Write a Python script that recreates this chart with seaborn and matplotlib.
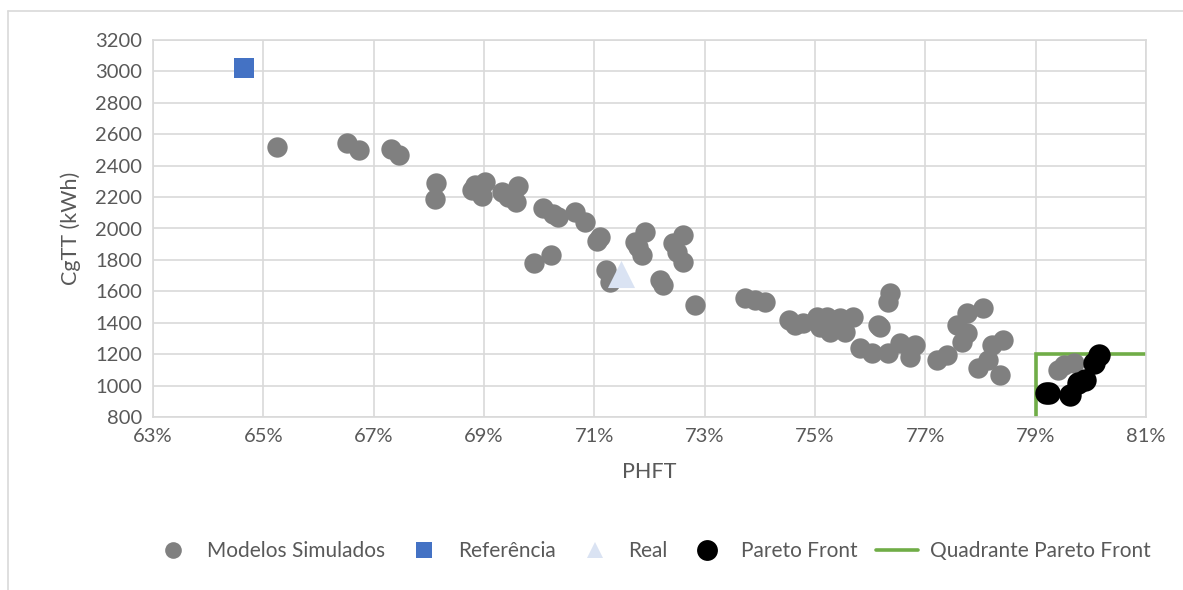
import matplotlib
matplotlib.use("Agg")
import matplotlib.pyplot as plt
from matplotlib.lines import Line2D
from matplotlib.ticker import FixedLocator, FuncFormatter, MultipleLocator
import seaborn as sns
import pandas as pd

sns.set_theme(style="white")
plt.rcParams['font.family'] = ['Lato', 'DejaVu Sans']

# Modelos Simulados (PHFT fraction, CgTT kWh)
sim_x = [0.6524, 0.6651, 0.6674, 0.6732, 0.6746, 0.6813, 0.6811, 0.6884, 0.6902,
         0.6896, 0.6878, 0.6932, 0.6962, 0.6958, 0.6943, 0.7007, 0.7035, 0.7025,
         0.7065, 0.7083, 0.7104, 0.7110, 0.6991, 0.7022, 0.7122, 0.7128, 0.7192,
         0.7174, 0.7186, 0.7180, 0.7219, 0.7225, 0.7261, 0.7243, 0.7249, 0.7261,
         0.7282, 0.7373, 0.7391, 0.7409, 0.7452, 0.7464, 0.7479, 0.7503, 0.7521,
         0.7509, 0.7527, 0.7545, 0.7554, 0.7569, 0.7582, 0.7618, 0.7636, 0.7633,
         0.7615, 0.7603, 0.7633, 0.7654, 0.7672, 0.7681, 0.7721, 0.7739, 0.7757,
         0.7775, 0.7805, 0.7766, 0.7775, 0.7841, 0.7820, 0.7796, 0.7814, 0.7835,
         0.7951, 0.7940, 0.7970]
sim_y = [2517, 2542, 2500, 2508, 2466, 2292, 2188, 2277, 2298,
         2209, 2245, 2234, 2271, 2171, 2202, 2129, 2075, 2090,
         2107, 2043, 1922, 1948, 1778, 1831, 1736, 1661, 1980,
         1916, 1831, 1884, 1672, 1640, 1959, 1906, 1852, 1789,
         1513, 1556, 1545, 1534, 1417, 1386, 1396, 1438, 1438,
         1375, 1343, 1428, 1343, 1438, 1237, 1375, 1587, 1534,
         1386, 1206, 1206, 1269, 1184, 1258, 1163, 1195, 1386,
         1460, 1492, 1279, 1333, 1290, 1258, 1110, 1163, 1067,
         1131, 1100, 1142]

# Referência
ref_x = [0.6465]
ref_y = [3022]

# Real
real_x = [0.7148]
real_y = [1712]

# Pareto Front
par_x = [0.7918, 0.7925, 0.7962, 0.7977, 0.7989, 0.8005, 0.8014]
par_y = [951, 955, 940, 1015, 1036, 1142, 1195]

# Quadrante Pareto Front
quad_x = [0.79, 0.79, 0.81]
quad_y = [800, 1200, 1200]

# x tick values
x_ticks = [0.63, 0.65, 0.67, 0.69, 0.71, 0.73, 0.75, 0.77, 0.79, 0.81]

fig = plt.figure(figsize=(11.83, 5.90), dpi=100)
ax = fig.add_axes([153/1183, 1 - 417/590, (1146-153)/1183, (417-40)/590])

sim_df = pd.DataFrame({"PHFT": sim_x, "CgTT": sim_y})
ref_df = pd.DataFrame({"PHFT": ref_x, "CgTT": ref_y})
real_df = pd.DataFrame({"PHFT": real_x, "CgTT": real_y})
par_df = pd.DataFrame({"PHFT": par_x, "CgTT": par_y})
quad_df = pd.DataFrame({"PHFT": quad_x, "CgTT": quad_y})

sns.scatterplot(data=sim_df, x="PHFT", y="CgTT", ax=ax, color="#808080", s=215,
                marker="o", linewidth=0, zorder=3)
sns.scatterplot(data=ref_df, x="PHFT", y="CgTT", ax=ax, color="#4472C4", s=200,
                marker="s", linewidth=0, zorder=3)
sns.scatterplot(data=real_df, x="PHFT", y="CgTT", ax=ax, color="#DAE3F3", s=380,
                marker="^", linewidth=0, zorder=4)
ax.plot(quad_df["PHFT"], quad_df["CgTT"], color="#70AD47", lw=2.6, zorder=2,
        solid_joinstyle="miter", solid_capstyle="butt")
sns.scatterplot(data=par_df, x="PHFT", y="CgTT", ax=ax, color="black", s=260,
                marker="o", linewidth=0, zorder=5)

ax.set_xlim(0.63, 0.81)
ax.set_ylim(800, 3200)
ax.xaxis.set_major_locator(FixedLocator(x_ticks))
ax.yaxis.set_major_locator(MultipleLocator(200))
ax.xaxis.set_major_formatter(FuncFormatter(lambda v, p: f"{round(v*100)}%"))
ax.grid(True, color="#D9D9D9", linewidth=1.2)
ax.set_axisbelow(True)
for side in ["top", "right", "bottom", "left"]:
    ax.spines[side].set_visible(True)
    ax.spines[side].set_color("#D9D9D9")
    ax.spines[side].set_linewidth(1.2)
ax.tick_params(axis="both", length=0, labelsize=14.5, colors="#595959", pad=8)
ax.set_xlabel("PHFT", fontsize=15.5, color="#595959", labelpad=12)
ax.set_ylabel("CgTT (kWh)", fontsize=15.5, color="#595959", labelpad=10)

handles = [
    Line2D([], [], marker="o", color="none", markerfacecolor="#808080", markeredgewidth=0, markersize=12),
    Line2D([], [], marker="s", color="none", markerfacecolor="#4472C4", markeredgewidth=0, markersize=11),
    Line2D([], [], marker="^", color="none", markerfacecolor="#DAE3F3", markeredgewidth=0, markersize=12),
    Line2D([], [], marker="o", color="none", markerfacecolor="black", markeredgewidth=0, markersize=15),
    Line2D([], [], color="#70AD47", lw=2.6),
]
labels = ["Modelos Simulados", "Referência", "Real", "Pareto Front", "Quadrante Pareto Front"]
fig.legend(handles, labels, loc="center", bbox_to_anchor=(0.551, 1 - 551/590), ncol=5,
           frameon=False, fontsize=15, labelcolor="#595959", handlelength=2.0,
           columnspacing=0.9, handletextpad=0.6)

# chart-area border
fig.add_artist(Line2D([8/1183, 1.0], [1 - 11/590, 1 - 11/590], color="#D9D9D9", lw=1.2))
fig.add_artist(Line2D([8/1183, 8/1183], [0, 1 - 11/590], color="#D9D9D9", lw=1.2))

fig.savefig("out.png", dpi=100, facecolor="white")
